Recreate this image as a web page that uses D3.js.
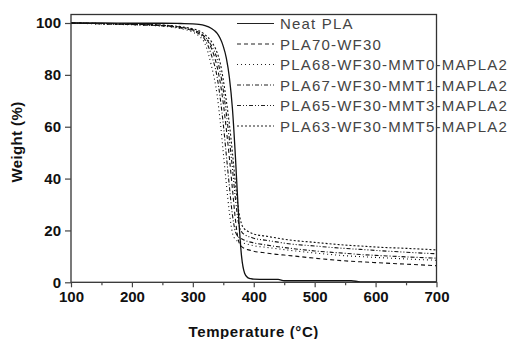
<!DOCTYPE html>
<html><head><meta charset="utf-8">
<script src="https://cdn.jsdelivr.net/npm/d3@7/dist/d3.min.js"></script>
<style>html,body{margin:0;padding:0;background:#fff;}svg{display:block;}</style>
</head><body>
<script>
const temps = [100,150,200,250,280,300,310,320,330,340,345,350,355,360,365,370,375,380,385,390,395,400,420,440,450,500,560,575,600,650,700];
const neatPLA = [100,100,99.9,99.9,99.8,99.7,99.5,99,98,96,94,91,86.5,79,67,48,26,10,3.5,1.8,1.4,1.2,1.1,1.1,0.6,0.6,0.6,0.2,0.2,0.2,0.2];
const pla70 = [100,99.8,99.5,99.1,98.4,97.4,96.4,94.5,90.5,83,77,69,59,48,36,24,16,13.8,13,12.6,12.3,12,11.3,10.7,10.5,9.3,8.1,7.9,7.6,7.0,6.4];
const mmt0 = [100,99.6,99.3,98.8,97.8,96.5,95,92,84,72,62,50,38,27,19,16.5,15.8,15.4,15,14.7,14.4,14.1,13.5,12.9,12.6,11.3,10.1,9.9,9.6,9.0,8.5];
const mmt1 = [100,99.7,99.4,98.9,98.1,97,95.8,93.5,88,79,71,61,49,37,26,19.5,17.5,16.8,16.2,15.8,15.5,15.2,14.4,13.7,13.4,12.1,11,10.7,10.4,9.8,9.3];
const mmt3 = [100,99.7,99.4,99,98.3,97.3,96.3,94.6,91.5,86,81,74,65,55,44,32,23,19.5,18.4,17.8,17.4,17,16.2,15.5,15.1,14,12.9,12.7,12.3,11.6,11];
const mmt5 = [100,99.8,99.6,99.2,98.6,97.8,97,95.5,93,88.5,84.5,78,70,61,50,38,28,22.5,20.5,19.7,19.1,18.6,17.8,17,16.6,15.4,14.2,14,13.6,13.1,12.5];
const seriesNames = ["Neat PLA","PLA70-WF30","PLA68-WF30-MMT0-MAPLA2","PLA67-WF30-MMT1-MAPLA2","PLA65-WF30-MMT3-MAPLA2","PLA63-WF30-MMT5-MAPLA2"];
const seriesValues = [neatPLA, pla70, mmt0, mmt1, mmt3, mmt5];
const dashes = ["none","4,3","1,3","4,2,1,2","4,2,1,2,1,2","2,2"];
const xTicks = [100,200,300,400,500,600,700];
const yTicks = [0,20,40,60,80,100];

const W = 507, H = 339;
const svg = d3.select("body").append("svg").attr("width", W).attr("height", H);
const L = 71, R = 436.5, T = 14.5, B = 282.3;
const x = d3.scaleLinear().domain([100,700]).range([L,R]);
const y = d3.scaleLinear().domain([0,100]).range([B,23]);

svg.append("defs").append("clipPath").attr("id","clip")
  .append("rect").attr("x",L).attr("y",T).attr("width",R-L).attr("height",B-T);

const line = d3.line().x((d,i)=>x(temps[i])).y(d=>y(d)).curve(d3.curveMonotoneX);
const g = svg.append("g").attr("clip-path","url(#clip)");
seriesValues.forEach((vals,k)=>{
  g.append("path").attr("d", line(vals)).attr("fill","none")
   .attr("stroke","#111").attr("stroke-width", k===0?1.3:1.1)
   .attr("stroke-dasharray", dashes[k]);
});

// frame
svg.append("rect").attr("x",L).attr("y",T).attr("width",R-L).attr("height",B-T)
  .attr("fill","none").attr("stroke","#333").attr("stroke-width",1.3);

// axes
const xAxis = d3.axisBottom(x).tickValues(xTicks).tickSize(5).tickPadding(4).tickFormat(d3.format("d"));
svg.append("g").attr("transform",`translate(0,${B})`).call(xAxis);
const xMinor = d3.axisBottom(x).tickValues(d3.range(150,700,100)).tickSize(3).tickFormat("");
svg.append("g").attr("transform",`translate(0,${B})`).call(xMinor);
const yAxis = d3.axisLeft(y).tickValues(yTicks).tickSize(6).tickPadding(4);
svg.append("g").attr("transform",`translate(${L},0)`).call(yAxis);
svg.selectAll(".domain").remove();
svg.selectAll(".tick line").attr("stroke","#444").attr("stroke-width",1.2);
svg.selectAll(".tick text").attr("font-family","Liberation Sans, Arial, sans-serif")
  .attr("font-weight","bold").attr("font-size",15).attr("fill","#111");

svg.append("text").attr("x",(L+R)/2).attr("y",337)
  .attr("text-anchor","middle").attr("font-family","Liberation Sans, Arial, sans-serif")
  .attr("font-weight","bold").attr("font-size",15).attr("letter-spacing",0.6).attr("fill","#111")
  .text("Temperature (°C)");
svg.append("text").attr("transform",`translate(22,142) rotate(-90)`)
  .attr("text-anchor","middle").attr("font-family","Liberation Sans, Arial, sans-serif")
  .attr("font-weight","bold").attr("font-size",15).attr("letter-spacing",0.4).attr("fill","#111")
  .text("Weight (%)");

// legend
const lg = svg.append("g");
seriesNames.forEach((name,k)=>{
  const cy = 23.5 + k*20.5;
  lg.append("line").attr("x1",237).attr("x2",274).attr("y1",cy).attr("y2",cy)
    .attr("stroke","#222").attr("stroke-width",1.1).attr("stroke-dasharray",dashes[k]);
  lg.append("text").attr("x",280).attr("y",cy+5.5)
    .attr("font-family","Liberation Sans, Arial, sans-serif").attr("font-size",15)
    .attr("letter-spacing",1.2).attr("fill","#444").text(name);
});
</script>
</body></html>
